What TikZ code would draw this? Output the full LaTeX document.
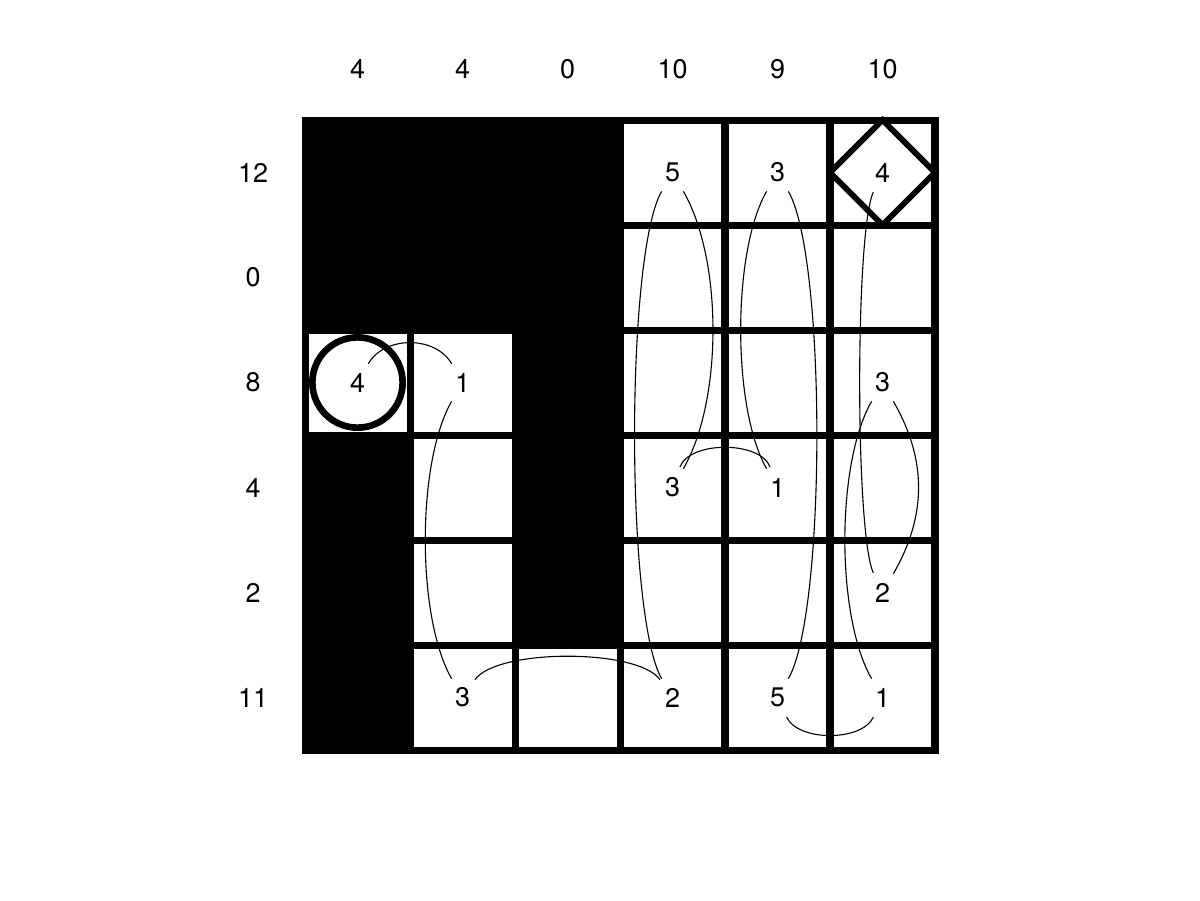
\documentclass[tikz,border=0pt]{standalone}
\usepackage{fontspec}
\setmainfont{TeX Gyre Heros}
\begin{document}
\begin{tikzpicture}[x=1cm,y=1cm]
  \tikzstyle{every node}+=[inner sep=0pt, font=\fontsize{7.3}{8.8}\selectfont]
  \tikzstyle{num}=[circle, minimum size=0.4cm]
  \tikzstyle{wall}=[black, line width=1.9pt]
  \tikzstyle{link}=[black, line width=0.3pt]
  \useasboundingbox (-2.905,-1.429) rectangle (8.524,7.143);
  % blocked cells
  \fill [black] (0,4) rectangle (3,6);
  \fill [black] (2,1) rectangle (3,4);
  \fill [black] (0,0) rectangle (1,3);
  % board
  \draw [wall] (0,0) grid (6,6);
  \draw [wall] (0,0) rectangle (6,6);
  \draw [black, line width=1.6pt] (5,5.5) -- (5.5,6) -- (6,5.5) -- (5.5,5) -- cycle;
  \draw [black, line width=1.8pt] (0.5,3.5) circle (0.43);
  % clues
  \foreach \v [count=\i from 0] in {4,4,0,10,9,10}
    \draw (\i+0.5,6.486) node {\v};
  \foreach \v [count=\i from 0] in {12,0,8,4,2,11}
    \draw (-0.495,5.5-\i) node {\v};
  % numbers
  \draw (3.5,5.5) node [num] (n30) {5};
  \draw (4.5,5.5) node [num] (n40) {3};
  \draw (5.5,5.5) node [num] (n50) {4};
  \draw (0.5,3.5) node [num] (n02) {4};
  \draw (1.5,3.5) node [num] (n12) {1};
  \draw (5.5,3.5) node [num] (n52) {3};
  \draw (3.5,2.5) node [num] (n33) {3};
  \draw (4.5,2.5) node [num] (n43) {1};
  \draw (5.5,1.5) node [num] (n54) {2};
  \draw (1.5,0.5) node [num] (n15) {3};
  \draw (3.5,0.5) node [num] (n35) {2};
  \draw (4.5,0.5) node [num] (n45) {5};
  \draw (5.5,0.5) node [num] (n55) {1};
  % path
  \draw [link] (n02) to [out=60,in=120] (n12);
  \draw [link] (n12) to [out=-120,in=120,looseness=0.65] (n15);
  \draw [link] (n15) to [out=55,in=125,looseness=0.53] (n35);
  \draw [link] (n35) to [out=120,in=-120,looseness=0.38] (n30);
  \draw [link] (n30) to [out=-60,in=60,looseness=0.73] (n33);
  \draw [link] (n33) to [out=70,in=110,looseness=0.8] (n43);
  \draw [link] (n43) to [out=120,in=-120,looseness=0.64] (n40);
  \draw [link] (n40) to [out=-60,in=60,looseness=0.4] (n45);
  \draw [link] (n45) to [out=-65,in=-115,looseness=0.8] (n55);
  \draw [link] (n55) to [out=120,in=-120,looseness=0.66] (n52);
  \draw [link] (n52) to [out=-60,in=60] (n54);
  \draw [link] (n54) to [out=115,in=-115,looseness=0.29] (n50);
\end{tikzpicture}
\end{document}
